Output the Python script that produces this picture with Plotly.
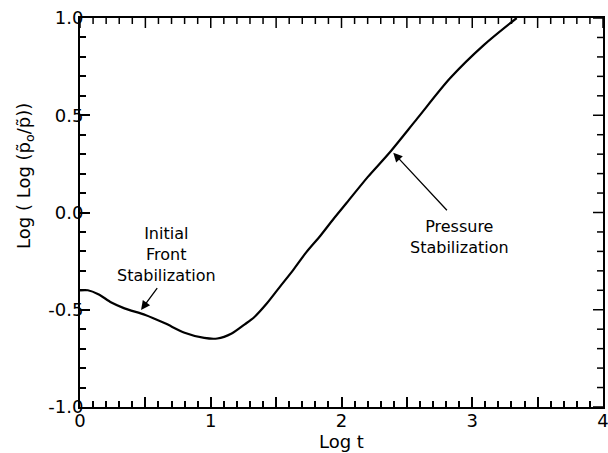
import plotly.graph_objects as go

# Curve data (Log t, Log(Log(p0/p)))
log_t = [0.0, 0.06, 0.14, 0.24, 0.34, 0.50, 0.65, 0.80, 0.95, 1.05, 1.16, 1.26, 1.33,
         1.43, 1.53, 1.63, 1.73, 1.84, 1.94, 2.04, 2.20, 2.37, 2.58, 2.83, 3.09, 3.34]
log_log_p = [-0.40, -0.40, -0.42, -0.463, -0.493, -0.527, -0.57, -0.618, -0.645, -0.648,
             -0.622, -0.575, -0.54, -0.467, -0.381, -0.296, -0.205, -0.118, -0.032,
             0.05, 0.182, 0.31, 0.484, 0.69, 0.862, 1.0]

x_tickvals = [0, 0.5, 1, 1.5, 2, 2.5, 3, 3.5, 4]
x_ticktext = ["0", "", "1", "", "2", "", "3", "", "4"]
y_tickvals = [1.0, 0.5, 0.0, -0.5, -1.0]
y_ticktext = ["1.0", "0.5", "0.0", "-0.5", "-1.0"]
MINOR_STEP = 0.1

FONT = "DejaVu Sans"
W, H = 608, 453
M = dict(l=80, r=5, t=18, b=46)
PLOT_W = W - M["l"] - M["r"]
PLOT_H = H - M["t"] - M["b"]

fig = go.Figure()
fig.add_trace(go.Scatter(x=log_t, y=log_log_p, mode="lines",
                         line=dict(color="black", width=2.2, shape="spline", smoothing=0.8),
                         showlegend=False, hoverinfo="skip"))

minor_ticks = dict(dtick=MINOR_STEP, ticks="inside", ticklen=6, tickwidth=1.5,
                   tickcolor="black")
axis_common = dict(showgrid=False, zeroline=False, showline=True, linecolor="black",
                   linewidth=2, mirror=True, ticks="inside", tickcolor="black",
                   tickwidth=1.5, ticklen=10, automargin=False,
                   ticklabeloverflow="allow", minor=minor_ticks,
                   tickfont=dict(family=FONT, size=18, color="black"))

fig.update_xaxes(range=[0, 4], tickvals=x_tickvals, ticktext=x_ticktext,
                 ticklabelstandoff=-4, **axis_common)
fig.update_yaxes(range=[-1.0001, 1.0001], tickvals=y_tickvals, ticktext=y_ticktext,
                 ticklabelstandoff=-9, **axis_common)

# ticks on the top and right frame edges (same tick values as the bottom/left axes)
def minor_vals(lo, hi, majors):
    n = int(round((hi - lo) / MINOR_STEP))
    vals = [round(lo + i * MINOR_STEP, 3) for i in range(n + 1)]
    return [v for v in vals if all(abs(v - m) > 1e-6 for m in majors)]

shapes = []
tick_line = dict(color="black", width=1.5)
for vals, length in ((x_tickvals, 10), (minor_vals(0, 4, x_tickvals), 6)):
    for v in vals:
        shapes.append(dict(type="line", xref="x", yref="paper", x0=v, x1=v,
                           y0=1, y1=1 - length / PLOT_H, line=tick_line, layer="above"))
for vals, length in ((y_tickvals, 10), (minor_vals(-1, 1, y_tickvals), 6)):
    for v in vals:
        shapes.append(dict(type="line", yref="y", xref="paper", y0=v, y1=v,
                           x0=1, x1=1 - length / PLOT_W, line=tick_line, layer="above"))

annots = [
    # axis titles
    dict(text="Log t", xref="paper", yref="paper", x=0.5, y=0, yshift=-34,
         xanchor="center", yanchor="middle", showarrow=False,
         font=dict(family=FONT, size=18, color="black")),
    dict(text="Log ( Log (p\u0303<sub>o</sub>/p\u0303))", xref="paper", yref="paper",
         x=0, xshift=-55, y=0.594, xanchor="center", yanchor="middle",
         textangle=-90, showarrow=False,
         font=dict(family=FONT, size=18, color="black")),
    # labels
    dict(text="Initial<br>Front<br>Stabilization", x=0.658, y=-0.214, xref="x", yref="y",
         showarrow=False, align="center",
         font=dict(family=FONT, size=16, color="black")),
    dict(text="Pressure<br>Stabilization", x=2.906, y=-0.125, xref="x", yref="y",
         showarrow=False, align="center",
         font=dict(family=FONT, size=16, color="black")),
    # arrows
    dict(text="", x=0.467, y=-0.501, ax=0.599, ay=-0.381, xref="x", yref="y",
         axref="x", ayref="y", showarrow=True, arrowhead=2, arrowsize=1.4,
         arrowwidth=1.3, arrowcolor="black", standoff=0),
    dict(text="", x=2.396, y=0.3075, ax=2.817, ay=0.004, xref="x", yref="y",
         axref="x", ayref="y", showarrow=True, arrowhead=2, arrowsize=1.4,
         arrowwidth=1.3, arrowcolor="black", standoff=0),
]

fig.update_layout(width=W, height=H,
                  margin=dict(**M, autoexpand=False),
                  paper_bgcolor="white", plot_bgcolor="white", annotations=annots,
                  shapes=shapes, font=dict(family=FONT, color="black"))

# remove the browser's default 8px body margin so the figure sits at the page origin
fig.write_html("out.html", config={"displayModeBar": False},
               post_script="document.body.style.margin='0';")
